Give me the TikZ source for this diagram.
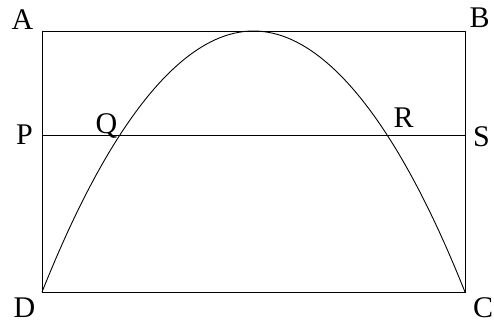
\documentclass[tikz,border=0pt]{standalone}
\usepackage{fontspec}
\setmainfont{Liberation Serif}
\usetikzlibrary{positioning}

\begin{document}
\begin{tikzpicture}[
    x=1pt, y=-1pt,
    edge/.style={line width=0.9pt},
    lbl/.style={inner sep=0pt, anchor=base, font=\fontsize{30}{32}\selectfont},
]
\useasboundingbox (0,0) rectangle (494,322);

\coordinate (a) at (42,31);
\coordinate (b) at (465,31);
\coordinate (c) at (465,292);
\coordinate (d) at (42,292);
\coordinate (p) at (42,135);
\coordinate (s) at (465,135);
\coordinate (top) at (253.5,31);

\draw[edge] (a) -- (b) -- (c) -- (d) -- cycle;
\draw[edge] (p) -- (s);
\draw[edge] (d) parabola bend (top) (c);

\node[lbl] (la) at (22.5,29) {A};
\node[lbl] (lb) at (479.5,27) {B};
\node[lbl] (lc) at (483,317) {C};
\node[lbl] (ld) at (24.5,317) {D};
\node[lbl] (lp) at (24.5,144) {P};
\node[lbl] (lq) at (106.5,133) {Q};
\node[lbl] (lr) at (403.5,127) {R};
\node[lbl] (ls) at (481.5,146) {S};

\end{tikzpicture}
\end{document}
